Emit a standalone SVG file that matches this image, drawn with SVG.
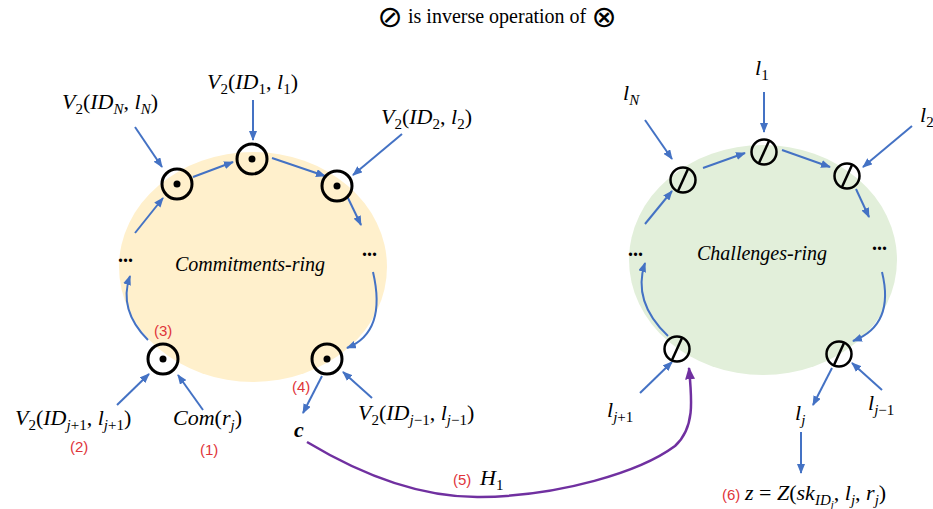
<svg xmlns="http://www.w3.org/2000/svg" width="933" height="509" viewBox="0 0 933 509">
<defs>
<marker id="ab" viewBox="0 0 10 8" refX="9" refY="4" markerWidth="5" markerHeight="4" orient="auto" markerUnits="strokeWidth"><path d="M0,0 L10,4 L0,8 z" fill="#4472C4"/></marker>
<marker id="ap" viewBox="0 0 10 8" refX="9" refY="4" markerWidth="5" markerHeight="4" orient="auto" markerUnits="strokeWidth"><path d="M0,0 L10,4 L0,8 z" fill="#7030A0"/></marker>
</defs>
<style>
.m{font-family:"Liberation Serif","DejaVu Serif",serif;font-size:22px;fill:#000}
.i{font-style:italic}
.s{font-size:15px}
.ss{font-size:11px}
.r{font-family:"Liberation Sans",Arial,sans-serif;font-size:15px;fill:#E0353A}
.a{stroke:#4472C4;stroke-width:2;fill:none;marker-end:url(#ab)}
.p{stroke:#7030A0;stroke-width:2.5;fill:none;marker-end:url(#ap)}
.od{fill:none;stroke:#000;stroke-width:3}
.os{fill:none;stroke:#000;stroke-width:2.5}
.ring{font-family:"Liberation Serif","DejaVu Serif",serif;font-style:italic;font-size:20px}
.dots{font-family:"Liberation Serif",serif;font-size:20px;font-weight:bold}
.sym{font-family:"DejaVu Sans ExtraLight","DejaVu Sans",sans-serif;font-size:30px;text-anchor:middle}
</style>
<rect width="933" height="509" fill="#fff"/>

<g id="legend">
<text class="sym" x="390" y="27">⊘</text>
<text x="408" y="23" font-family="Liberation Serif,serif" font-size="20">is inverse operation of</text>
<text class="sym" x="604" y="27">⊗</text>
</g>

<g id="commitments-ring">
<ellipse cx="253" cy="267" rx="134" ry="115" fill="#FFF0CC"/>
<text class="ring" x="175" y="271">Commitments-ring</text>
<text class="dots" x="118" y="262">...</text>
<text class="dots" x="362" y="256">...</text>
</g>

<g id="challenges-ring">
<ellipse cx="763" cy="260" rx="134" ry="115" fill="#E2EFDA"/>
<text class="ring" x="697" y="260">Challenges-ring</text>
<text class="dots" x="628" y="256">...</text>
<text class="dots" x="872" y="250">...</text>
</g>

<g id="connectors">
<line class="a" x1="135" y1="127" x2="162" y2="167"/>
<line class="a" x1="253" y1="100" x2="253" y2="140"/>
<line class="a" x1="402" y1="134" x2="353" y2="175"/>
<line class="a" x1="193" y1="177" x2="233" y2="162"/>
<line class="a" x1="272" y1="158" x2="325" y2="176"/>
<line class="a" x1="347" y1="196" x2="361" y2="225"/>
<line class="a" x1="135" y1="233" x2="163" y2="198"/>
<path class="a" d="M148,340 Q118,310 130,276"/>
<path class="a" d="M373,272 Q387,332 347,348"/>
<line class="a" x1="117" y1="405" x2="149" y2="374"/>
<line class="a" x1="203" y1="410" x2="178" y2="375"/>
<line class="a" x1="322" y1="376" x2="303" y2="413"/>
<line class="a" x1="372" y1="398" x2="343" y2="372"/>

<line class="a" x1="645" y1="120" x2="672" y2="159"/>
<line class="a" x1="764" y1="92" x2="764" y2="132"/>
<line class="a" x1="912" y1="126" x2="863" y2="167"/>
<line class="a" x1="703" y1="168" x2="745" y2="153"/>
<line class="a" x1="782" y1="150" x2="830" y2="167"/>
<line class="a" x1="856" y1="189" x2="869" y2="217"/>
<line class="a" x1="645" y1="224" x2="672" y2="191"/>
<path class="a" d="M668,336 Q632,302 645,263"/>
<path class="a" d="M882,272 Q895,325 853,341"/>
<line class="a" x1="640" y1="393" x2="672" y2="362"/>
<line class="a" x1="832" y1="368" x2="813" y2="405"/>
<line class="a" x1="882" y1="390" x2="852" y2="363"/>
<line class="a" x1="801" y1="432" x2="801" y2="473"/>

<path class="p" d="M307,442 Q400,498 480,497 C560,496 640,472 675,446 C695,428 692,400 689,368"/>
</g>

<g id="node-c-N"><circle class="od" cx="177" cy="184" r="15"/><circle cx="177" cy="184" r="3.5"/></g>
<g id="node-c-1"><circle class="od" cx="252" cy="159" r="15"/><circle cx="252" cy="159" r="3.5"/></g>
<g id="node-c-2"><circle class="od" cx="337" cy="186" r="15"/><circle cx="337" cy="186" r="3.5"/></g>
<g id="node-c-j1"><circle class="od" cx="163" cy="359" r="15"/><circle cx="163" cy="359" r="3.5"/></g>
<g id="node-c-jm1"><circle class="od" cx="327" cy="359" r="15"/><circle cx="327" cy="359" r="3.5"/></g>

<g id="node-h-N"><circle class="os" cx="683" cy="180" r="12.5"/><line class="os" x1="678" y1="191" x2="688" y2="169"/></g>
<g id="node-h-1"><circle class="os" cx="764" cy="152" r="12.5"/><line class="os" x1="759" y1="163" x2="769" y2="141"/></g>
<g id="node-h-2"><circle class="os" cx="847" cy="176" r="12.5"/><line class="os" x1="842" y1="187" x2="852" y2="165"/></g>
<g id="node-h-j1"><circle class="os" cx="677" cy="349" r="12.5"/><line class="os" x1="672" y1="360" x2="682" y2="338"/></g>
<g id="node-h-jm1"><circle class="os" cx="839" cy="354" r="12.5"/><line class="os" x1="834" y1="365" x2="844" y2="343"/></g>

<g id="labels-left">
<text class="m" x="62" y="109"><tspan class="i">V</tspan><tspan class="s" dy="5">2</tspan><tspan dy="-5">(</tspan><tspan class="i">ID</tspan><tspan class="s i" dy="5">N</tspan><tspan dy="-5">, </tspan><tspan class="i">l</tspan><tspan class="s i" dy="5">N</tspan><tspan dy="-5">)</tspan></text>
<text class="m" x="207" y="89"><tspan class="i">V</tspan><tspan class="s" dy="5">2</tspan><tspan dy="-5">(</tspan><tspan class="i">ID</tspan><tspan class="s" dy="5">1</tspan><tspan dy="-5">, </tspan><tspan class="i">l</tspan><tspan class="s" dy="5">1</tspan><tspan dy="-5">)</tspan></text>
<text class="m" x="381" y="124"><tspan class="i">V</tspan><tspan class="s" dy="5">2</tspan><tspan dy="-5">(</tspan><tspan class="i">ID</tspan><tspan class="s" dy="5">2</tspan><tspan dy="-5">, </tspan><tspan class="i">l</tspan><tspan class="s" dy="5">2</tspan><tspan dy="-5">)</tspan></text>
<text class="m" x="15" y="425"><tspan class="i">V</tspan><tspan class="s" dy="5">2</tspan><tspan dy="-5">(</tspan><tspan class="i">ID</tspan><tspan class="s" dy="5"><tspan class="i">j</tspan>+1</tspan><tspan dy="-5">, </tspan><tspan class="i">l</tspan><tspan class="s" dy="5"><tspan class="i">j</tspan>+1</tspan><tspan dy="-5">)</tspan></text>
<text class="m" x="173" y="425"><tspan class="i">Com</tspan>(<tspan class="i">r</tspan><tspan class="s i" dy="5">j</tspan><tspan dy="-5">)</tspan></text>
<text class="m" x="358" y="420"><tspan class="i">V</tspan><tspan class="s" dy="5">2</tspan><tspan dy="-5">(</tspan><tspan class="i">ID</tspan><tspan class="s" dy="5"><tspan class="i">j</tspan>−1</tspan><tspan dy="-5">, </tspan><tspan class="i">l</tspan><tspan class="s" dy="5"><tspan class="i">j</tspan>−1</tspan><tspan dy="-5">)</tspan></text>
<text class="m i" x="294" y="437" font-weight="bold">c</text>
<text class="r" x="154" y="336">(3)</text>
<text class="r" x="292" y="392">(4)</text>
<text class="r" x="70" y="452">(2)</text>
<text class="r" x="200" y="455">(1)</text>
<text class="r" x="453" y="485">(5)</text>
<text class="m" x="480" y="485"><tspan class="i">H</tspan><tspan class="s" dy="5">1</tspan></text>
</g>

<g id="labels-right">
<text class="m" x="623" y="100"><tspan class="i">l</tspan><tspan class="s i" dy="5">N</tspan></text>
<text class="m" x="755" y="75"><tspan class="i">l</tspan><tspan class="s" dy="5">1</tspan></text>
<text class="m" x="920" y="122"><tspan class="i">l</tspan><tspan class="s" dy="5">2</tspan></text>
<text class="m" x="607" y="417"><tspan class="i">l</tspan><tspan class="s" dy="5"><tspan class="i">j</tspan>+1</tspan></text>
<text class="m" x="795" y="420"><tspan class="i">l</tspan><tspan class="s i" dy="5">j</tspan></text>
<text class="m" x="868" y="410"><tspan class="i">l</tspan><tspan class="s" dy="5"><tspan class="i">j</tspan>−1</tspan></text>
<text class="r" x="722" y="500">(6)</text>
<text class="m" x="745" y="500"><tspan class="i">z</tspan> = <tspan class="i">Z</tspan>(<tspan class="i">sk</tspan><tspan class="s i" dy="5">ID</tspan><tspan class="ss i" dy="3">j</tspan><tspan dy="-8">, </tspan><tspan class="i">l</tspan><tspan class="s i" dy="5">j</tspan><tspan dy="-5">, </tspan><tspan class="i">r</tspan><tspan class="s i" dy="5">j</tspan><tspan dy="-5">)</tspan></text>
</g>
</svg>
